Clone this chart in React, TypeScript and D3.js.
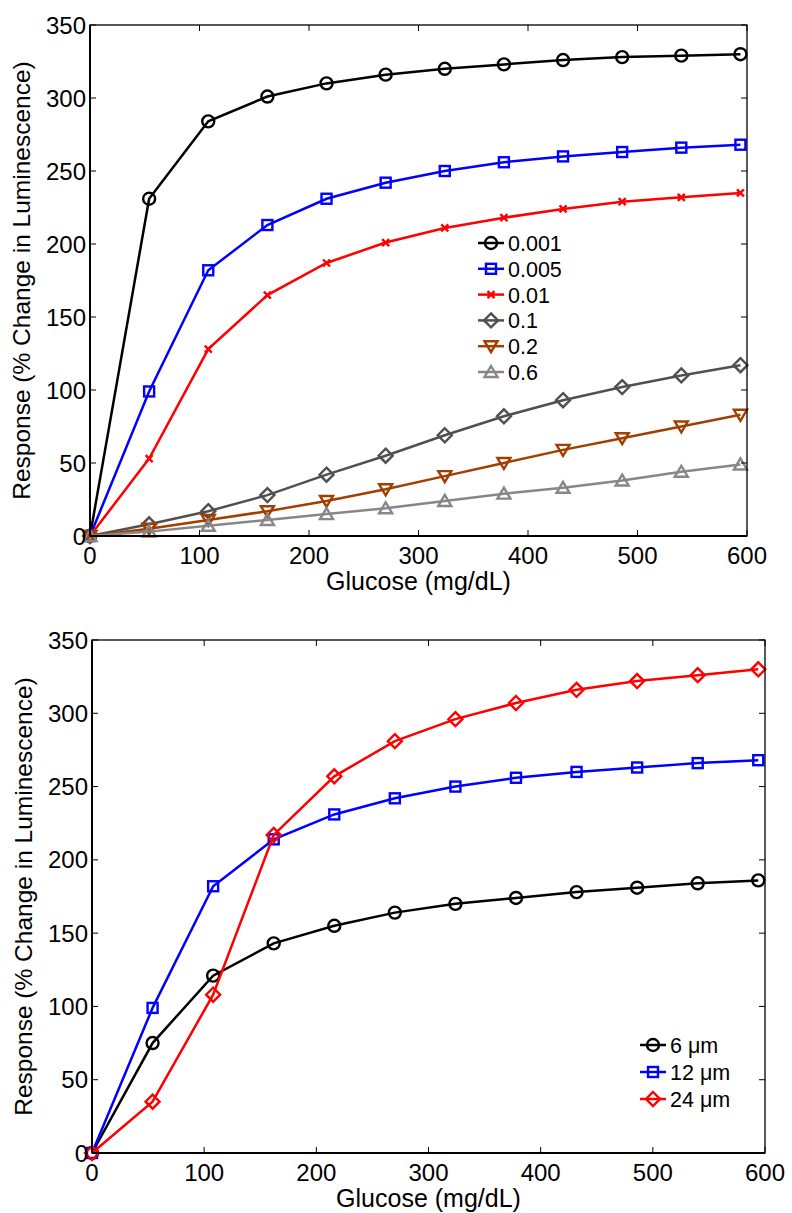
import React from "react";
import * as d3 from "d3";

const glucose = [0, 54, 108, 162, 216, 270, 324, 378, 432, 486, 540, 594];

const conc001 = [0, 231, 284, 301, 310, 316, 320, 323, 326, 328, 329, 330];
const conc005 = [0, 99, 182, 213, 231, 242, 250, 256, 260, 263, 266, 268];
const conc01 = [0, 53, 128, 165, 187, 201, 211, 218, 224, 229, 232, 235];
const conc1 = [0, 8, 17, 28, 42, 55, 69, 82, 93, 102, 110, 117];
const conc2 = [0, 5, 11, 17, 24, 32, 41, 50, 59, 67, 75, 83];
const conc6 = [0, 3, 7, 11, 15, 19, 24, 29, 33, 38, 44, 49];

const size6 = [0, 75, 121, 143, 155, 164, 170, 174, 178, 181, 184, 186];
const size12 = [0, 99, 182, 214, 231, 242, 250, 256, 260, 263, 266, 268];
const size24 = [0, 35, 108, 217, 257, 281, 296, 307, 316, 322, 326, 330];

const xTicks = [0, 100, 200, 300, 400, 500, 600];
const yTicks = [0, 50, 100, 150, 200, 250, 300, 350];

type Marker = "circle" | "square" | "x" | "diamond" | "tridown" | "triup";
type Series = { name: string; values: number[]; color: string; marker: Marker };

const topSeries: Series[] = [
  { name: "0.001", values: conc001, color: "#000000", marker: "circle" },
  { name: "0.005", values: conc005, color: "#0000ff", marker: "square" },
  { name: "0.01", values: conc01, color: "#ff0000", marker: "x" },
  { name: "0.1", values: conc1, color: "#505050", marker: "diamond" },
  { name: "0.2", values: conc2, color: "#a33e00", marker: "tridown" },
  { name: "0.6", values: conc6, color: "#878787", marker: "triup" },
];

const bottomSeries: Series[] = [
  { name: "6 \u03bcm", values: size6, color: "#000000", marker: "circle" },
  { name: "12 \u03bcm", values: size12, color: "#0000ff", marker: "square" },
  { name: "24 \u03bcm", values: size24, color: "#ff0000", marker: "diamond" },
];

const FONT = "Liberation Sans, Arial, Helvetica, sans-serif";

function MarkerShape({ type, x, y, color }: { type: Marker; x: number; y: number; color: string }) {
  const sw = 2.4;
  switch (type) {
    case "circle":
      return <circle cx={x} cy={y} r={6} fill="none" stroke={color} strokeWidth={sw} />;
    case "square":
      return <rect x={x - 5} y={y - 5} width={10} height={10} fill="none" stroke={color} strokeWidth={sw} />;
    case "x":
      return (
        <path d={`M${x - 3.5},${y - 3.5}L${x + 3.5},${y + 3.5}M${x - 3.5},${y + 3.5}L${x + 3.5},${y - 3.5}`} stroke={color} strokeWidth={sw} />
      );
    case "diamond":
      return <path d={`M${x},${y - 7}L${x + 7},${y}L${x},${y + 7}L${x - 7},${y}Z`} fill="none" stroke={color} strokeWidth={sw} />;
    case "tridown":
      return <path d={`M${x - 6.5},${y - 5}L${x + 6.5},${y - 5}L${x},${y + 6}Z`} fill="none" stroke={color} strokeWidth={sw} />;
    case "triup":
      return <path d={`M${x - 6.5},${y + 5}L${x + 6.5},${y + 5}L${x},${y - 6}Z`} fill="none" stroke={color} strokeWidth={sw} />;
  }
}

function Panel({
  left, right, top, bottom, series, legendX, legendY, legendStep,
}: {
  left: number; right: number; top: number; bottom: number; series: Series[];
  legendX: number; legendY: number; legendStep: number;
}) {
  const x = d3.scaleLinear().domain([0, 600]).range([left, right]);
  const y = d3.scaleLinear().domain([0, 350]).range([bottom, top]);
  const line = d3.line<number>().x((_, i) => x(glucose[i])).y((v) => y(v));
  const tick = 6;
  return (
    <g fontFamily={FONT}>
      {series.map((s) => (
        <g key={s.name}>
          <path d={line(s.values) ?? ""} fill="none" stroke={s.color} strokeWidth={2.5} />
          {s.values.map((v, i) => (
            <MarkerShape key={i} type={s.marker} x={x(glucose[i])} y={y(v)} color={s.color} />
          ))}
        </g>
      ))}
      <rect x={left} y={top} width={right - left} height={bottom - top} fill="none" stroke="#000" strokeWidth={1.3} />
      <line x1={left} x2={right} y1={bottom} y2={bottom} stroke="#000" strokeWidth={2} />
      <line x1={left} x2={left} y1={top} y2={bottom} stroke="#000" strokeWidth={2} />
      {xTicks.map((t) => (
        <g key={`x${t}`}>
          <line x1={x(t)} x2={x(t)} y1={bottom} y2={bottom - tick} stroke="#000" strokeWidth={1} />
          <line x1={x(t)} x2={x(t)} y1={top} y2={top + tick} stroke="#000" strokeWidth={1} />
          <text x={x(t)} y={bottom + 28} fontSize={24} textAnchor="middle">{t}</text>
        </g>
      ))}
      {yTicks.map((t) => (
        <g key={`y${t}`}>
          <line x1={left} x2={left + tick} y1={y(t)} y2={y(t)} stroke="#000" strokeWidth={1} />
          <line x1={right} x2={right - tick} y1={y(t)} y2={y(t)} stroke="#000" strokeWidth={1} />
          <text x={left - 4} y={y(t) + 8.5} fontSize={24} textAnchor="end">{t}</text>
        </g>
      ))}
      <text x={(left + right) / 2} y={bottom + 54} fontSize={25} textAnchor="middle">Glucose (mg/dL)</text>
      <text
        transform={`translate(${left - 60},${(top + bottom) / 2}) rotate(-90)`}
        fontSize={24.5}
        textAnchor="middle"
      >
        Response (% Change in Luminescence)
      </text>
      {series.map((s, i) => {
        const ly = legendY + i * legendStep;
        return (
          <g key={`lg${s.name}`}>
            <line x1={legendX} x2={legendX + 26} y1={ly} y2={ly} stroke={s.color} strokeWidth={2.5} />
            <MarkerShape type={s.marker} x={legendX + 13} y={ly} color={s.color} />
            <text x={legendX + 30} y={ly + 8} fontSize={21.5}>{s.name}</text>
          </g>
        );
      })}
    </g>
  );
}

export default function App() {
  return (
    <svg
      width={792}
      height={1213}
      style={{ position: "absolute", left: 0, top: 0, background: "#fff" }}
    >
      <rect width={792} height={1213} fill="#fff" />
      <Panel left={90} right={747} top={25} bottom={536} series={topSeries} legendX={478} legendY={243} legendStep={25.8} />
      <Panel left={92} right={765} top={640} bottom={1153} series={bottomSeries} legendX={640} legendY={1045} legendStep={27} />
    </svg>
  );
}
